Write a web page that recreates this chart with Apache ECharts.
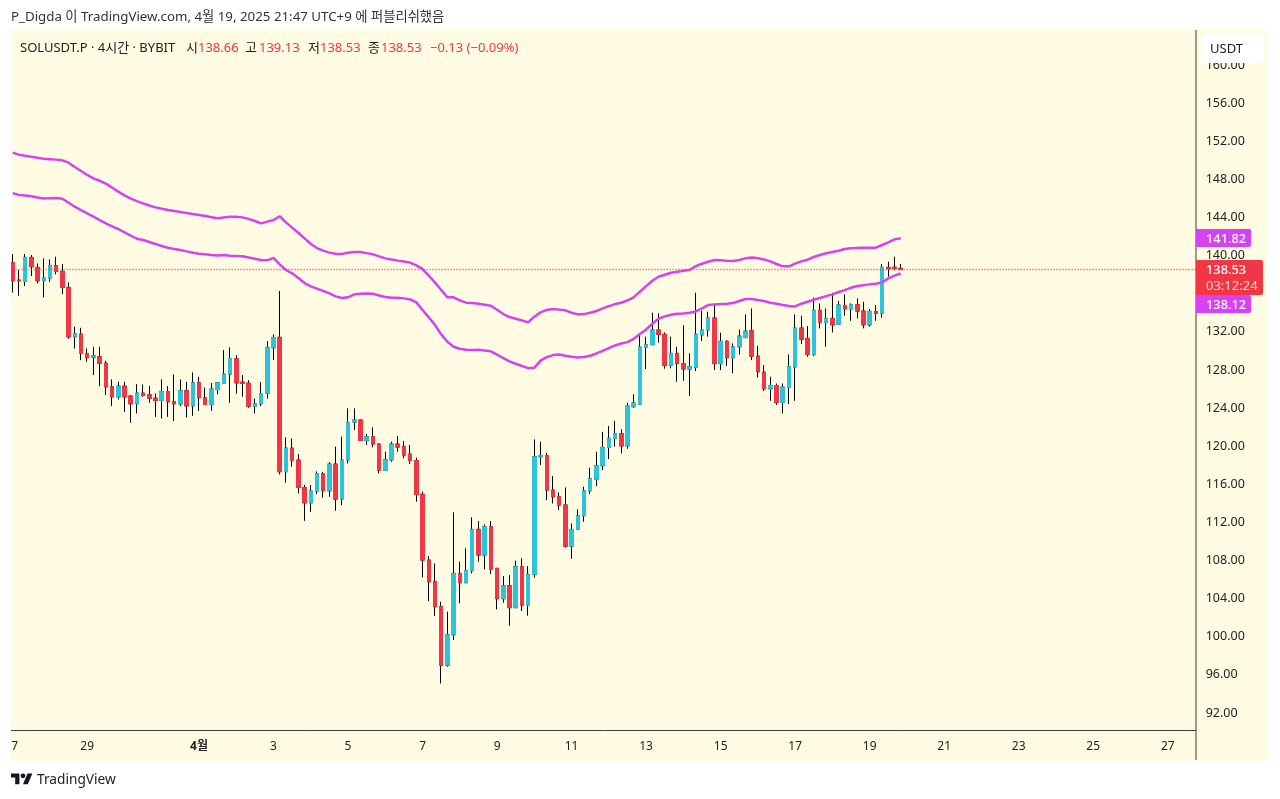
<!DOCTYPE html>
<html>
<head>
<meta charset="utf-8">
<title>SOLUSDT.P</title>
<script src="https://cdn.jsdelivr.net/npm/echarts@6/dist/echarts.min.js"></script>
<style>
  html, body { margin: 0; padding: 0; background: #fff; }
  #chart { width: 1280px; height: 799px; }
</style>
</head>
<body>
<div id="chart"></div>
<script>
const opens = [
  139.25,137.43,137.29,139.81,138.76,137.36,137.64,138.94,138.34,136.66,
  131.48,131.76,129.73,129.34,129.38,128.71,126.23,125.18,126.30,125.25,
  124.45,125.57,125.39,125.04,124.80,125.74,124.69,124.45,125.81,124.23,
  126.65,125.08,124.38,125.95,126.58,127.56,129.17,126.72,126.61,124.20,
  124.45,125.53,130.33,131.42,117.32,119.80,118.54,115.67,114.06,115.29,
  117.11,115.32,118.12,114.45,118.54,122.53,122.74,120.60,120.99,120.22,
  117.46,118.57,120.22,119.94,119.17,118.50,114.95,108.05,105.81,103.15,
  97.02,100.21,106.65,105.67,106.93,111.27,108.58,111.55,107.18,103.99,
  105.35,103.05,107.35,103.33,106.55,118.89,119.00,115.39,114.69,113.82,
  109.51,111.26,112.70,115.32,116.51,117.95,119.87,120.82,121.30,120.04,
  124.14,124.42,130.40,130.65,132.19,131.74,128.48,129.74,128.66,128.10,
  128.27,131.67,132.19,133.45,128.66,131.00,129.28,130.43,131.41,132.11,
  129.45,127.77,126.02,126.37,124.59,126.16,128.33,132.39,131.31,129.63,
  134.25,132.99,133.41,132.81,134.77,134.39,134.84,134.18,132.74,134.14,
  133.93,138.76,138.78,138.66
];
const closes = [
  137.36,137.36,139.81,138.83,137.36,137.64,138.97,138.34,136.66,131.48,
  131.80,129.73,129.28,129.48,128.68,126.23,125.18,126.30,125.18,124.45,
  125.57,125.32,125.04,124.80,125.74,124.66,124.45,125.81,124.23,126.65,
  125.08,124.38,125.99,126.65,127.56,129.20,126.65,126.61,124.20,124.45,
  125.53,130.36,131.41,117.32,119.80,118.54,115.67,114.06,115.29,117.11,
  115.32,118.12,114.45,118.54,122.49,122.74,120.60,120.99,120.22,117.46,
  118.57,120.22,119.91,119.07,118.50,114.93,108.05,105.77,103.15,97.02,
  100.21,106.65,105.67,106.93,111.27,108.58,111.55,107.10,103.99,105.35,
  103.05,107.35,103.33,106.55,118.89,119.03,115.39,114.69,113.82,109.51,
  111.26,112.70,115.32,116.58,117.95,119.87,120.82,121.30,120.04,124.21,
  124.53,130.40,130.65,132.19,131.74,128.48,129.74,128.66,128.10,128.34,
  131.74,132.19,133.45,128.66,131.00,129.28,130.43,131.55,132.07,129.45,
  127.81,126.02,126.37,124.59,126.20,128.33,132.39,131.23,129.63,134.25,
  132.99,133.41,132.74,134.81,134.42,134.84,134.18,132.74,134.14,133.93,
  138.76,138.63,138.66,138.53
];
const lows = [
  136.13,135.79,136.80,137.85,137.08,135.61,137.25,138.03,135.96,131.27,
  130.25,129.03,128.86,127.46,126.30,125.36,124.20,124.90,123.60,122.45,
  123.43,125.18,124.55,123.08,122.90,123.08,122.63,124.20,123.01,123.19,
  123.68,124.38,123.71,125.46,126.58,124.55,125.50,125.18,124.03,123.43,
  124.20,125.00,129.03,117.03,116.16,117.84,115.04,112.17,113.11,114.97,
  114.59,114.69,113.22,113.81,118.19,121.69,120.57,120.11,119.87,117.14,
  117.46,118.37,119.42,118.72,118.12,114.17,106.23,103.74,102.17,95.10,
  96.85,99.65,103.50,105.67,106.65,107.88,107.07,106.58,102.87,103.57,
  101.16,103.05,102.70,102.21,106.20,118.02,114.34,113.99,113.29,109.37,
  108.18,111.26,112.07,114.97,115.81,117.49,118.65,119.94,119.24,119.73,
  124.04,124.32,128.10,130.62,130.86,128.13,128.17,126.76,126.87,125.26,
  127.89,131.03,131.49,127.99,127.99,128.41,127.63,129.62,131.31,129.03,
  127.21,125.78,124.76,124.31,123.43,124.41,124.76,130.71,129.38,129.45,
  132.36,130.43,131.94,132.77,133.69,133.16,133.41,132.36,132.53,133.16,
  133.48,137.79,138.49,138.53
];
const highs = [
  140.16,138.48,140.16,140.06,139.18,139.71,139.60,139.88,139.11,137.19,
  132.53,132.43,130.25,130.43,130.43,128.96,127.00,126.75,126.75,125.36,
  126.51,126.47,126.33,125.53,127.00,126.30,127.53,127.00,126.75,127.74,
  127.28,126.16,126.65,126.75,130.08,130.36,129.55,127.46,126.93,125.00,
  126.72,131.03,131.72,136.29,120.92,120.81,119.17,115.95,115.92,117.35,
  117.31,118.33,119.94,120.99,123.97,123.97,122.81,121.27,121.97,120.29,
  119.42,120.47,121.06,120.53,120.12,118.79,115.23,108.47,107.70,103.68,
  102.63,113.06,107.88,109.28,112.53,112.14,111.80,112.14,107.18,106.37,
  106.47,107.98,108.23,107.42,120.71,120.47,119.31,116.86,115.15,115.67,
  111.89,113.36,115.74,117.74,119.42,121.51,122.11,122.67,121.76,124.56,
  125.45,131.77,131.49,134.01,133.94,131.94,131.49,130.44,132.68,129.74,
  136.11,134.22,134.11,134.82,131.91,131.14,130.78,132.25,133.83,134.45,
  130.53,128.50,127.28,126.58,126.58,129.63,133.83,133.69,132.60,135.58,
  134.98,134.45,136.10,135.23,135.93,134.98,135.50,135.15,134.39,134.81,
  139.11,139.36,139.88,139.13
];
const upperBand = [
  150.80,150.59,150.48,150.38,150.27,150.17,150.12,150.07,150.00,149.75,
  149.30,148.88,148.46,148.11,147.85,147.55,147.13,146.71,146.32,145.97,
  145.71,145.48,145.26,145.06,144.92,144.78,144.68,144.57,144.47,144.36,
  144.26,144.15,144.03,143.91,144.00,144.08,144.08,144.01,143.85,143.63,
  143.38,143.56,143.73,144.13,143.49,142.93,142.40,141.81,141.22,140.79,
  140.52,140.31,140.20,140.16,140.31,140.38,140.38,140.26,140.13,139.92,
  139.71,139.58,139.47,139.37,139.26,138.98,138.59,137.89,137.16,136.39,
  135.62,135.62,135.30,135.06,135.02,134.95,134.85,134.74,134.32,133.87,
  133.55,133.38,133.20,132.99,133.59,134.04,134.30,134.39,134.33,134.26,
  134.00,133.83,133.86,134.00,134.18,134.46,134.70,134.91,135.05,135.30,
  135.61,136.21,136.80,137.36,137.78,137.99,138.20,138.30,138.41,138.48,
  138.90,139.15,139.36,139.53,139.50,139.46,139.43,139.53,139.71,139.81,
  139.71,139.60,139.39,139.12,138.87,138.87,139.15,139.39,139.57,139.85,
  140.06,140.24,140.38,140.51,140.69,140.76,140.80,140.83,140.83,140.83,
  141.11,141.39,141.70,141.82
];
const lowerBand = [
  146.56,146.36,146.30,146.22,146.10,146.00,146.03,146.04,145.97,145.55,
  145.13,144.78,144.43,144.08,143.72,143.38,143.07,142.79,142.44,142.09,
  141.77,141.63,141.42,141.21,141.00,140.82,140.69,140.58,140.44,140.30,
  140.20,140.13,140.07,140.02,140.07,139.98,139.95,139.92,139.80,139.67,
  139.53,139.50,139.76,139.08,138.49,138.14,137.65,137.12,136.77,136.53,
  136.28,136.03,135.72,135.55,135.62,135.93,136.00,136.03,136.00,135.82,
  135.65,135.58,135.58,135.51,135.40,135.09,134.29,133.52,132.71,131.73,
  130.96,130.43,130.22,130.12,130.09,130.12,130.05,129.95,129.60,129.25,
  128.90,128.65,128.41,128.19,128.23,128.97,129.35,129.56,129.63,129.49,
  129.38,129.31,129.35,129.49,129.73,130.01,130.29,130.57,130.78,130.92,
  131.27,131.76,132.25,132.85,133.37,133.62,133.79,133.90,133.93,134.00,
  134.14,134.46,134.81,134.88,134.91,134.95,135.02,135.23,135.44,135.44,
  135.33,135.23,135.05,134.95,134.81,134.70,134.67,134.95,135.16,135.37,
  135.55,135.75,135.93,136.18,136.38,136.63,136.81,136.88,136.98,137.05,
  137.19,137.61,137.89,138.12
];
const lastPrice = 138.53;
// 191 4h slots: the last ones are empty future time on the right
const slotCount = 191;
const xTickIndex = [0, 12, 30, 42, 54, 66, 78, 90, 102, 114, 126, 138, 150, 162, 174, 186];
const xTickLabels = ['7', '29', '4월', '3', '5', '7', '9', '11', '13', '15', '17', '19', '21', '23', '25', '27'];

const FONT = '"Noto Sans", "Noto Sans CJK KR", sans-serif';
const RED = '#f23645';
const CYAN = '#2bc4d9';
const PURPLE = '#d642f2';
const PANEL = '#fffce3';

const categories = [];
for (let i = 0; i < slotCount; i++) categories.push(String(i));

const wickData = opens.map((o, i) => [o, closes[i], lows[i], highs[i]]);
// second candle series without wicks paints the coloured bodies over the black one
const bodyData = opens.map((o, i) => [o, closes[i], Math.min(o, closes[i]), Math.max(o, closes[i])]);

function label(text, x, y, color, extra) {
  return {
    type: 'text', z: 100, x: x, y: y,
    style: Object.assign({ text: text, fill: color, font: '13px ' + FONT, textVerticalAlign: 'middle' }, extra || {})
  };
}

function priceTag(y, h, w, fill) {
  return { type: 'rect', z: 99, shape: { x: 1196, y: y, width: w, height: h, r: [0, 2, 2, 0] }, style: { fill: fill } };
}

const chart = echarts.init(document.getElementById('chart'));
chart.setOption({
  animation: false,
  backgroundColor: '#fff',
  textStyle: { fontFamily: FONT },
  grid: { left: 9.6, top: 65, width: 1186.1, height: 648 },
  xAxis: {
    type: 'category',
    data: categories,
    offset: 17,
    axisLine: { show: false },
    axisTick: { show: false },
    splitLine: { show: false },
    axisLabel: {
      interval: (idx) => xTickIndex.includes(idx),
      margin: 11,
      color: '#222',
      fontSize: 12,
      fontFamily: FONT,
      formatter: (v, idx) => {
        const text = xTickLabels[xTickIndex.indexOf(idx)];
        if (idx === 0) return '{s|' + text + '}'; // clipped "27" at the left edge
        return text === '4월' ? '{b|' + text + '}' : text;
      },
      rich: {
        b: { fontWeight: 'bold', fontSize: 12, color: '#222', fontFamily: FONT },
        s: { fontSize: 12, color: '#222', fontFamily: FONT, padding: [0, 0, 0, 4] }
      }
    }
  },
  yAxis: {
    type: 'value',
    position: 'right',
    min: 92,
    max: 160,
    interval: 4,
    axisLine: { show: false },
    axisTick: { show: false },
    splitLine: { show: false },
    axisLabel: { margin: 10, color: '#222', fontSize: 12.5, fontFamily: FONT, padding: [2, 0, 0, 0], formatter: (v) => v.toFixed(2) }
  },
  series: [
    {
      name: 'wick',
      type: 'candlestick',
      data: wickData,
      barWidth: 4,
      itemStyle: { color: '#000', color0: '#000', borderColor: '#000', borderColor0: '#000', borderWidth: 1 },
      markLine: {
        silent: true,
        symbol: 'none',
        label: { show: false },
        lineStyle: { color: RED, type: [1, 2], width: 1.3, opacity: 1 },
        data: [{ yAxis: lastPrice }]
      }
    },
    {
      name: 'body',
      type: 'candlestick',
      data: bodyData,
      barWidth: 4,
      itemStyle: { color: CYAN, color0: RED, borderColor: CYAN, borderColor0: RED, borderWidth: 1 }
    },
    { name: 'upper', type: 'line', data: upperBand, showSymbol: false, lineStyle: { color: PURPLE, width: 2.5 } },
    { name: 'lower', type: 'line', data: lowerBand, showSymbol: false, lineStyle: { color: PURPLE, width: 2.5 } }
  ],
  graphic: [
    { type: 'rect', z: -10, shape: { x: 11, y: 30, width: 1257, height: 731 }, style: { fill: PANEL } },
    { type: 'rect', z: 98, shape: { x: 0, y: 30, width: 11, height: 731 }, style: { fill: '#fff' } },
    { type: 'line', z: 98, shape: { x1: 11, y1: 730.5, x2: 1196, y2: 730.5 }, style: { stroke: '#3a3a3a', lineWidth: 1 } },
    { type: 'line', z: 98, shape: { x1: 1196, y1: 30, x2: 1196, y2: 760 }, style: { stroke: '#3a3a3a', lineWidth: 1 } },

    // header and legend
    label('P_Digda 이 TradingView.com, 4월 19, 2025 21:47 UTC+9 에 퍼블리쉬했음', 11, 17, '#333', { font: '13.3px ' + FONT }),
    label('SOLUSDT.P · 4시간 · BYBIT', 20, 48, '#222'),
    label('시', 186, 48, '#222'),
    label('138.66', 198, 48, RED),
    label('고', 245, 48, '#222'),
    label('139.13', 259, 48, RED),
    label('저', 308, 48, '#222'),
    label('138.53', 320, 48, RED),
    label('종', 368, 48, '#222'),
    label('138.53', 381, 48, RED),
    label('−0.13 (−0.09%)', 430, 48, RED),

    // currency button
    { type: 'rect', z: 99, shape: { x: 1201, y: 34, width: 63, height: 29, r: 4 }, style: { fill: '#fff' } },
    label('USDT', 1210, 49, '#222'),

    // price tags
    priceTag(229, 18, 55, PURPLE),
    label('141.82', 1206, 239, '#fff', { font: '500 12.8px ' + FONT }),
    priceTag(295, 18, 55, PURPLE),
    label('138.12', 1206, 305, '#fff', { font: '500 12.8px ' + FONT }),
    priceTag(260, 35, 67, RED),
    label('138.53', 1206, 270.5, '#fff', { font: '500 12.8px ' + FONT }),
    label('03:12:24', 1206, 286.5, '#ffd9dc'),

    // footer logo
    {
      type: 'group', x: 11, y: 771, scaleX: 0.6, scaleY: 0.6,
      children: [
        { type: 'polygon', z: 99, shape: { points: [[14, 22], [7, 22], [7, 11], [0, 11], [0, 4], [14, 4]] }, style: { fill: '#131722' } },
        { type: 'polygon', z: 99, shape: { points: [[28, 22], [20, 22], [27.5, 4], [35.5, 4]] }, style: { fill: '#131722' } },
        { type: 'circle', z: 99, shape: { cx: 20, cy: 8, r: 4 }, style: { fill: '#131722' } }
      ]
    },
    label('TradingView', 37, 780.5, '#222', { font: '13.7px ' + FONT })
  ]
});
</script>
</body>
</html>
